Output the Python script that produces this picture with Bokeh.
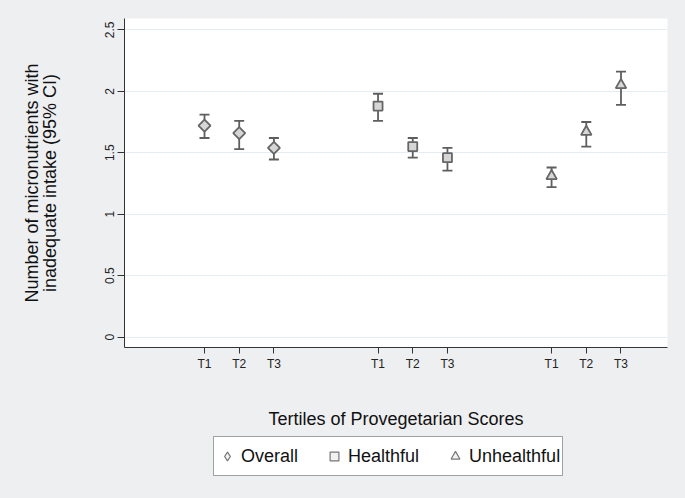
import math
from bokeh.plotting import figure
from bokeh.layouts import column
from bokeh.models import (Range1d, FixedTicker, Whisker, TeeHead, ColumnDataSource,
                          Legend, LegendItem)
from bokeh.embed import file_html
from bokeh.resources import INLINE

# ---------------- data ----------------
tick_pos = [1, 2, 3, 6, 7, 8, 11, 12, 13]
tick_labels = ["T1", "T2", "T3", "T1", "T2", "T3", "T1", "T2", "T3"]
y_ticks = [0, 0.5, 1, 1.5, 2, 2.5]
y_tick_labels = ["0", "0.5", "1", "1.5", "2", "2.5"]

overall_x = [1, 2, 3]
overall_mean = [1.72, 1.66, 1.54]
overall_lo = [1.62, 1.53, 1.445]
overall_hi = [1.81, 1.76, 1.62]

healthful_x = [6, 7, 8]
healthful_mean = [1.88, 1.55, 1.46]
healthful_lo = [1.76, 1.46, 1.355]
healthful_hi = [1.98, 1.62, 1.54]

unhealthful_x = [11, 12, 13]
unhealthful_mean = [1.31, 1.67, 2.05]
unhealthful_lo = [1.22, 1.55, 1.89]
unhealthful_hi = [1.38, 1.75, 2.16]

legend_labels = ["Overall", "Healthful", "Unhealthful"]

# ---------------- style ----------------
FONT = "Liberation Sans"
BG = "#eeeff1"
BAR = "#5e5e5e"
MFILL = "#d6d6d6"
MLINE = "#666666"
GRID = "#e4eef2"

p = figure(width=685, height=436, output_backend="svg", toolbar_location=None,
           x_range=Range1d(-1.305, 14.34), y_range=Range1d(-0.084, 2.592),
           min_border_left=124, min_border_right=18, min_border_top=18,
           min_border_bottom=89)
p.border_fill_color = BG
p.background_fill_color = "white"
p.outline_line_color = None

# axes
p.xaxis.ticker = FixedTicker(ticks=tick_pos)
p.xaxis.major_label_overrides = {t: l for t, l in zip(tick_pos, tick_labels)}
p.yaxis.ticker = FixedTicker(ticks=y_ticks)
p.yaxis.major_label_overrides = {t: l for t, l in zip(y_ticks, y_tick_labels)}
for ax in (p.xaxis[0], p.yaxis[0]):
    ax.axis_line_color = "#333333"
    ax.axis_line_width = 1
    ax.major_tick_line_color = "#333333"
    ax.major_tick_in = 0
    ax.minor_tick_line_color = None
    ax.major_label_text_font = FONT
    ax.major_label_text_font_size = "12px"
    ax.major_label_text_color = "#222222"
    ax.axis_label_text_font = FONT
    ax.axis_label_text_font_size = "18px"
    ax.axis_label_text_font_style = "normal"
    ax.axis_label_text_color = "#111111"
    ax.major_label_standoff = 3

p.xaxis.major_tick_out = 6
p.yaxis.major_tick_out = 7
p.yaxis.major_label_orientation = "vertical"
p.xaxis.axis_label = "Tertiles of Provegetarian Scores"
p.xaxis.axis_label_standoff = 35
p.yaxis.axis_label = "Number of micronutrients with\ninadequate intake (95% CI)"
p.yaxis.axis_label_standoff = 43
p.yaxis.axis_label_text_line_height = 0.87

p.xgrid.grid_line_color = None
p.ygrid.grid_line_color = GRID
p.ygrid.grid_line_width = 1
p.ygrid.ticker = FixedTicker(ticks=y_ticks)

series = [
    (overall_x, overall_mean, overall_lo, overall_hi, "square", 8.5, math.pi / 4),
    (healthful_x, healthful_mean, healthful_lo, healthful_hi, "square", 9, 0),
    (unhealthful_x, unhealthful_mean, unhealthful_lo, unhealthful_hi, "triangle", 10.5, 0),
]

for xs, m, lo, hi, marker, size, ang in series:
    src = ColumnDataSource(dict(x=xs, y=m, lo=lo, hi=hi))
    w = Whisker(source=src, base="x", lower="lo", upper="hi",
                line_color=BAR, line_width=1.8, level="underlay",
                upper_head=TeeHead(size=10, line_color=BAR, line_width=1.8),
                lower_head=TeeHead(size=10, line_color=BAR, line_width=1.8))
    p.add_layout(w)
    p.scatter("x", "y", source=src, marker=marker, size=size, angle=ang,
              fill_color=MFILL, line_color=MLINE, line_width=1.8)

# ---------------- legend strip (separate figure below) ----------------
lf = figure(width=685, height=62, output_backend="svg", toolbar_location=None,
            x_range=Range1d(0, 1), y_range=Range1d(0, 1),
            min_border_left=0, min_border_right=0, min_border_top=0,
            min_border_bottom=0)
lf.axis.visible = False
lf.grid.visible = False
lf.outline_line_color = None
lf.background_fill_color = BG
lf.border_fill_color = BG

leg_src = ColumnDataSource(dict(x=[float("nan")], y=[float("nan")]))
leg_markers = ["diamond", "square", "triangle"]
items = []
for lab, mk in zip(legend_labels, leg_markers):
    r = lf.scatter("x", "y", source=leg_src, marker=mk, fill_color="#f2f2f2",
                   line_color="#777777", line_width=1.2)
    items.append(LegendItem(label=lab, renderers=[r]))

legend = Legend(items=items, orientation="horizontal", location=(89, 22),
                glyph_width=22, glyph_height=34, label_height=34,
                label_standoff=3, spacing=25, padding=2, margin=0,
                label_text_font=FONT, label_text_font_size="18px",
                label_text_color="#111111",
                border_line_color="#444444", border_line_width=1,
                background_fill_color="white", background_fill_alpha=1)
lf.add_layout(legend)

layout = column(p, lf, spacing=0)
html = file_html(layout, INLINE)
html = html.replace("<body>", '<body style="background-color:%s">' % BG)
open("out.html", "w").write(html)
